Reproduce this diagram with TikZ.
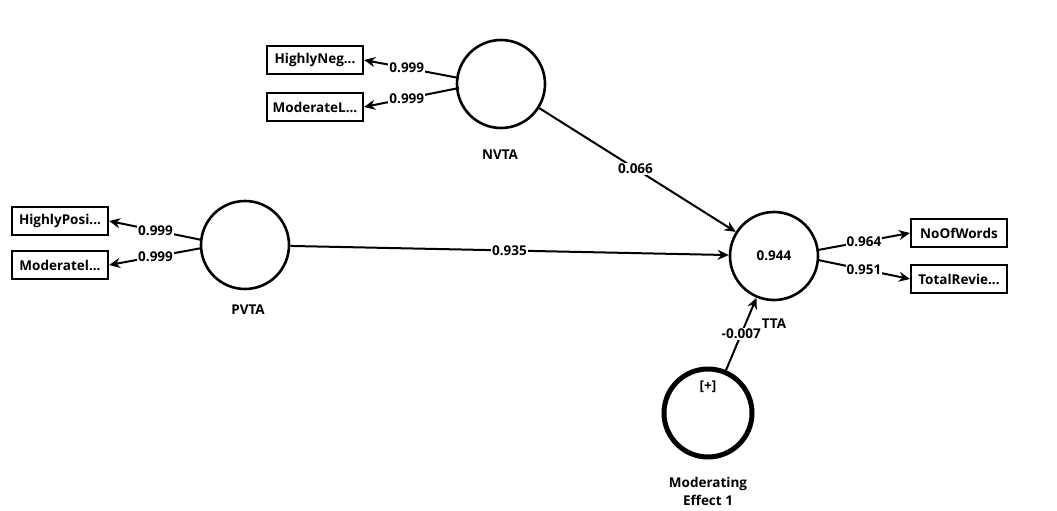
\documentclass[tikz,border=0pt]{standalone}
\usepackage{fontspec}
\setmainfont{Open Sans}
\usetikzlibrary{arrows.meta}
\begin{document}
\begin{tikzpicture}[x=1pt,y=-1pt,
  font=\fontsize{13.5}{15}\selectfont\bfseries,
  lv/.style={circle,draw,line width=2.6pt,minimum size=88pt,inner sep=0pt},
  mv/.style={rectangle,draw,line width=2.2pt,minimum width=96pt,minimum height=28pt,inner sep=2pt},
  conn/.style={line width=2pt,-{Stealth[length=11pt,width=10pt]}},
  wl/.style={fill=white,inner sep=1pt},
  lvcaption/.style={font=\fontsize{13.5}{18}\selectfont\bfseries,align=center}]
\useasboundingbox (0,0) rectangle (1057,511);
% latent variables
\node[lv] (nvta) at (501,84) {};
\node[lv] (pvta) at (245,245) {};
\node[lv] (tta) at (774,256) {0.944};
\node[lv,line width=5pt] (mod) at (708,413) {};
% captions
\node[lvcaption] (nvtal) at (500,155) {NVTA};
\node[lvcaption] (pvtal) at (248,310) {PVTA};
\node[lvcaption] (ttal) at (774,324) {TTA};
\node[lvcaption] (plus) at (708,387) {[+]};
\node[lvcaption] (modl) at (708,491) {Moderating\\Effect 1};
% indicators
\node[mv] (hn) at (315,60) {HighlyNeg...};
\node[mv] (ml1) at (315,107) {ModerateL...};
\node[mv] (hp) at (60,221) {HighlyPosi...};
\node[mv] (ml2) at (60,265) {Moderatel...};
\node[mv] (now) at (959,233) {NoOfWords};
\node[mv] (tr) at (959,279) {TotalRevie...};
% outer loadings
\coordinate (n1) at (459,78);
\coordinate (n2) at (459,88);
\draw[conn] (n1) -- node[wl,pos=0.55] (l1) {0.999} (hn.east);
\draw[conn] (n2) -- node[wl,pos=0.55] (l2) {0.999} (ml1.east);
\coordinate (p1) at (202,240);
\coordinate (p2) at (202,248);
\draw[conn] (p1) -- node[wl,pos=0.5] (l3) {0.999} (hp.east);
\draw[conn] (p2) -- node[wl,pos=0.5] (l4) {0.999} (ml2.east);
\coordinate (t1) at (818,250);
\coordinate (t2) at (818,260);
\draw[conn] (t1) -- node[wl,pos=0.5] (l5) {0.964} (now.west);
\draw[conn] (t2) -- node[wl,pos=0.5] (l6) {0.951} (tr.west);
% structural paths
\draw[conn] (pvta) -- node[wl,pos=0.5] (l7) {0.935} (tta);
\draw[conn] (nvta) -- node[wl,pos=0.49] (l8) {0.066} (tta);
\draw[conn] (mod) -- node[wl,pos=0.5] (l9) {-0.007} (tta);
\end{tikzpicture}
\end{document}
